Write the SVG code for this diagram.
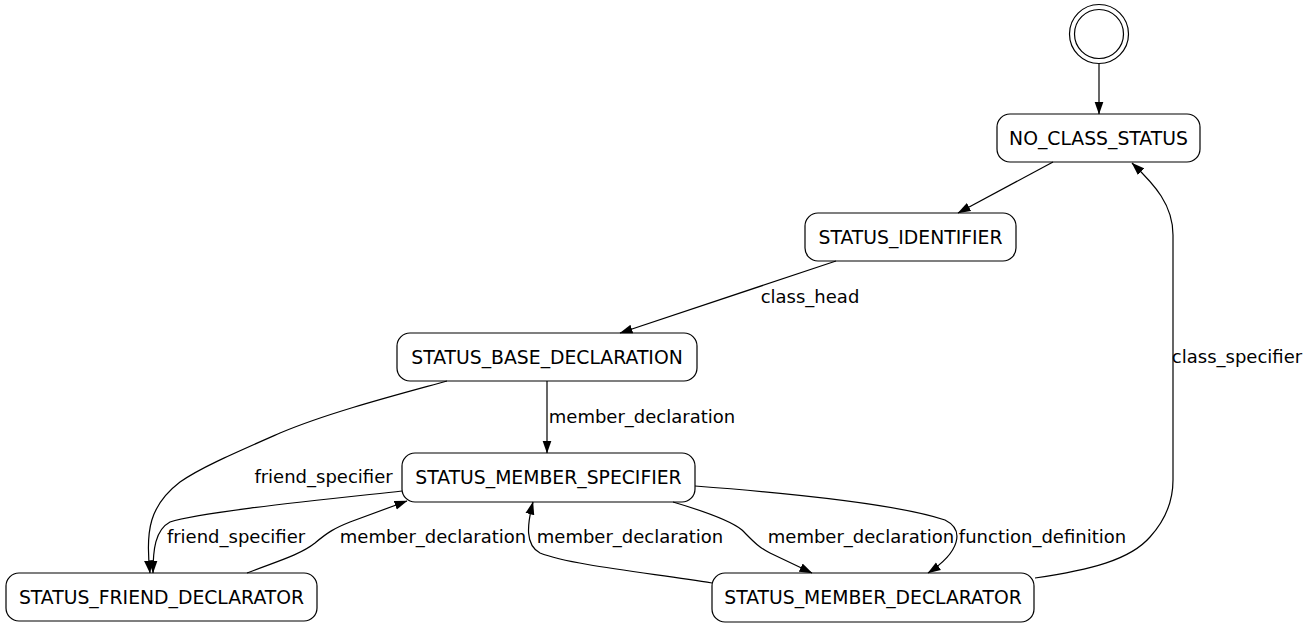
<svg xmlns="http://www.w3.org/2000/svg" width="1307" height="627" viewBox="0 0 1307 627">
<defs>
<style>
.node rect{fill:#fff;stroke:#000;stroke-width:1.2}
.node text{font-family:"DejaVu Sans",sans-serif;font-size:18.8px;fill:#000;text-anchor:middle}
.edge path{fill:none;stroke:#000;stroke-width:1.2;marker-end:url(#arr)}
.lbl{font-family:"DejaVu Sans",sans-serif;font-size:18px;fill:#000;text-anchor:middle}
</style>
<marker id="arr" viewBox="0 0 13 10" markerWidth="13" markerHeight="10" refX="12.5" refY="5" orient="auto" markerUnits="userSpaceOnUse">
<path d="M0,0.5 L13,5 L0,9.5 z" fill="#000"/>
</marker>
</defs>
<rect width="1307" height="627" fill="#fff"/>
<g id="start" class="node">
<circle cx="1099" cy="34" r="29.5" fill="#fff" stroke="#000" stroke-width="1.2"/>
<circle cx="1099" cy="34" r="24.5" fill="none" stroke="#000" stroke-width="1.2"/>
</g>
<g id="NO_CLASS_STATUS" class="node">
<rect x="997" y="114" width="203" height="48" rx="13"/>
<text x="1098.5" y="144.5">NO_CLASS_STATUS</text>
</g>
<g id="STATUS_IDENTIFIER" class="node">
<rect x="805" y="213" width="211" height="48" rx="13"/>
<text x="910.5" y="243.5">STATUS_IDENTIFIER</text>
</g>
<g id="STATUS_BASE_DECLARATION" class="node">
<rect x="397" y="333" width="300" height="48" rx="13"/>
<text x="547" y="363.5">STATUS_BASE_DECLARATION</text>
</g>
<g id="STATUS_MEMBER_SPECIFIER" class="node">
<rect x="402" y="453" width="293" height="49" rx="13"/>
<text x="548.5" y="484">STATUS_MEMBER_SPECIFIER</text>
</g>
<g id="STATUS_FRIEND_DECLARATOR" class="node">
<rect x="6" y="573" width="311" height="48" rx="13"/>
<text x="161.5" y="603.5">STATUS_FRIEND_DECLARATOR</text>
</g>
<g id="STATUS_MEMBER_DECLARATOR" class="node">
<rect x="712" y="573" width="322" height="49" rx="13"/>
<text x="873" y="604">STATUS_MEMBER_DECLARATOR</text>
</g>
<g id="connectors" class="edge">
<path d="M1099,64 L1099,114"/>
<path d="M1053,162 L958,213"/>
<path d="M836,261 L620,333"/>
<path d="M547,381 L547,453"/>
<path d="M447,381 C400,394 330,412 280,433 C230,455 200,468 180,482 C150,505 145,530 150,573"/>
<path d="M402,491 C320,500 200,512 170,522 C155,530 153,550 153,573"/>
<path d="M247,573 C275,562 300,555 315,543 C328,532 335,528 350,522 L407,501"/>
<path d="M712,583 C650,573 570,565 540,553 C525,545 527,525 533,502"/>
<path d="M673,502 C700,510 730,520 742,530 C752,540 758,547 770,553 L812,573"/>
<path d="M695,486 C800,494 900,505 945,520 C965,530 960,552 928,573"/>
<path d="M1035,578 C1090,570 1130,560 1150,537 C1170,515 1173,495 1173,480 L1173,235 C1173,205 1155,185 1132,163"/>
</g>
<g id="labels">
<text class="lbl" x="810" y="303">class_head</text>
<text class="lbl" x="642" y="423">member_declaration</text>
<text class="lbl" x="323.5" y="483">friend_specifier</text>
<text class="lbl" x="236" y="543">friend_specifier</text>
<text class="lbl" x="433" y="543">member_declaration</text>
<text class="lbl" x="630" y="543">member_declaration</text>
<text class="lbl" x="861" y="543">member_declaration</text>
<text class="lbl" x="1042.5" y="543">function_definition</text>
<text class="lbl" x="1237" y="363">class_specifier</text>
</g>
</svg>
